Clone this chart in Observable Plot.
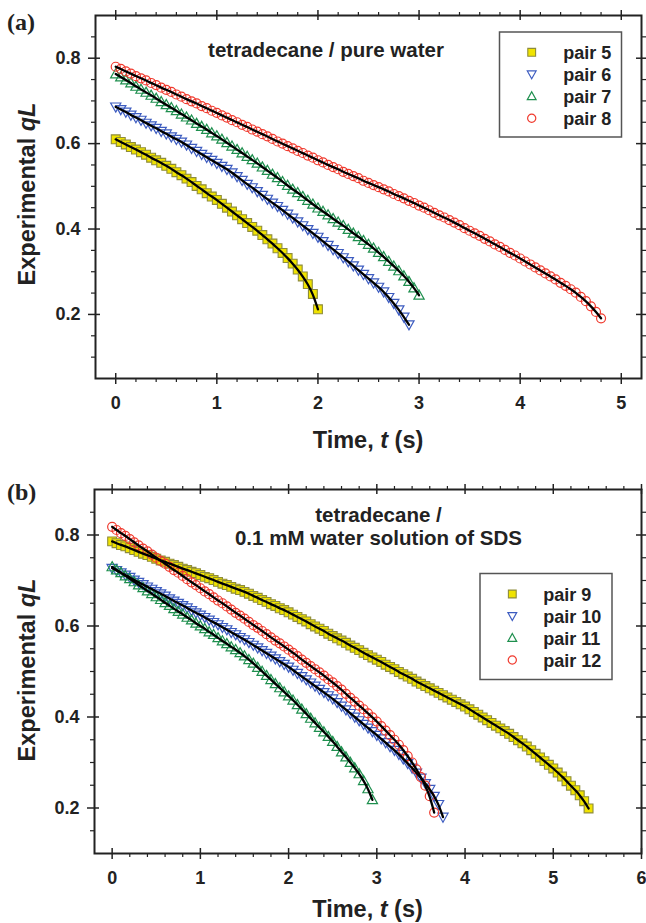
<!DOCTYPE html>
<html><head><meta charset="utf-8">
<script src="https://cdn.jsdelivr.net/npm/d3@7"></script>
<script src="https://cdn.jsdelivr.net/npm/@observablehq/plot@0.6"></script>
<style>
body{margin:0;background:#fff;}
#wrap{position:relative;width:646px;height:923px;overflow:hidden;background:#fff;}
</style></head><body><div id="wrap"></div>
<script>
// ---------- data ----------
const times = [0,0.05,0.1,0.15,0.2,0.25,0.3,0.35,0.4,0.45,0.5,0.55,0.6,0.65,0.7,0.75,0.8,0.85,0.9,0.95,
1,1.05,1.1,1.15,1.2,1.25,1.3,1.35,1.4,1.45,1.5,1.55,1.6,1.65,1.7,1.75,1.8,1.85,1.9,1.95,
2,2.05,2.1,2.15,2.2,2.25,2.3,2.35,2.4,2.45,2.5,2.55,2.6,2.65,2.7,2.75,2.8,2.85,2.9,2.95,
3,3.05,3.1,3.15,3.2,3.25,3.3,3.35,3.4,3.45,3.5,3.55,3.6,3.65,3.7,3.75,3.8,3.85,3.9,3.95,
4,4.05,4.1,4.15,4.2,4.25,4.3,4.35,4.4,4.45,4.5,4.55,4.6,4.65,4.7,4.75,4.8,4.85,4.9,4.95,
5,5.05,5.1,5.15,5.2,5.25,5.3,5.35,5.4];

// panel (a): tetradecane / pure water
const pair5 = [0.610,0.604,0.598,0.592,0.586,0.580,0.574,0.567,0.561,0.555,
0.548,0.541,0.533,0.526,0.518,0.510,0.501,0.493,0.484,0.476,
0.468,0.459,0.450,0.441,0.432,0.423,0.414,0.405,0.396,0.386,
0.376,0.366,0.355,0.344,0.332,0.319,0.305,0.289,0.271,0.248,0.212];
const pair6 = [0.686,0.680,0.674,0.667,0.661,0.655,0.648,0.642,0.636,0.629,
0.623,0.616,0.610,0.604,0.597,0.589,0.582,0.575,0.568,0.561,
0.554,0.547,0.540,0.532,0.523,0.514,0.505,0.497,0.488,0.479,
0.470,0.461,0.453,0.444,0.435,0.426,0.417,0.408,0.399,0.390,
0.381,0.371,0.362,0.352,0.343,0.333,0.324,0.314,0.304,0.294,
0.284,0.274,0.264,0.253,0.240,0.226,0.211,0.194,0.176];
const pair7 = [0.763,0.756,0.749,0.742,0.734,0.727,0.720,0.713,0.706,0.698,
0.691,0.684,0.677,0.669,0.662,0.655,0.647,0.640,0.633,0.625,
0.618,0.610,0.602,0.594,0.586,0.578,0.570,0.562,0.554,0.545,
0.537,0.528,0.520,0.511,0.502,0.493,0.485,0.476,0.467,0.458,
0.449,0.441,0.433,0.424,0.416,0.408,0.399,0.390,0.382,0.373,
0.364,0.355,0.345,0.335,0.324,0.313,0.302,0.290,0.277,0.262,0.245];
const pair8 = [0.780,0.775,0.769,0.764,0.758,0.753,0.748,0.742,0.737,0.731,
0.726,0.721,0.715,0.710,0.704,0.699,0.694,0.688,0.683,0.677,
0.672,0.666,0.661,0.655,0.650,0.644,0.639,0.633,0.628,0.622,
0.617,0.611,0.605,0.600,0.594,0.589,0.583,0.578,0.572,0.567,
0.561,0.556,0.550,0.545,0.540,0.534,0.529,0.524,0.519,0.513,
0.508,0.503,0.498,0.493,0.488,0.482,0.477,0.472,0.466,0.461,
0.455,0.450,0.444,0.438,0.432,0.427,0.421,0.415,0.409,0.402,
0.396,0.390,0.384,0.377,0.371,0.364,0.358,0.351,0.344,0.338,
0.331,0.324,0.317,0.310,0.303,0.296,0.289,0.282,0.274,0.267,
0.259,0.251,0.241,0.231,0.219,0.206,0.191];

// panel (b): tetradecane / 0.1 mM SDS
const pair9 = [0.786,0.782,0.778,0.775,0.771,0.767,0.763,0.759,0.756,0.752,
0.748,0.744,0.741,0.737,0.734,0.730,0.726,0.723,0.719,0.716,
0.712,0.708,0.705,0.701,0.697,0.693,0.690,0.686,0.682,0.679,
0.675,0.671,0.666,0.662,0.657,0.653,0.648,0.644,0.639,0.635,
0.630,0.625,0.620,0.615,0.610,0.604,0.599,0.594,0.589,0.583,
0.578,0.573,0.568,0.563,0.557,0.552,0.547,0.541,0.536,0.531,
0.526,0.521,0.515,0.510,0.505,0.499,0.494,0.489,0.484,0.478,
0.473,0.468,0.463,0.458,0.453,0.448,0.443,0.438,0.433,0.428,
0.423,0.417,0.411,0.405,0.399,0.393,0.387,0.381,0.375,0.369,
0.363,0.356,0.349,0.342,0.335,0.327,0.319,0.311,0.303,0.295,
0.287,0.278,0.269,0.259,0.249,0.239,0.228,0.215,0.199];
const pair10 = [0.727,0.722,0.717,0.712,0.707,0.701,0.696,0.691,0.686,0.681,
0.676,0.671,0.666,0.660,0.655,0.650,0.645,0.640,0.634,0.629,
0.624,0.619,0.613,0.608,0.603,0.597,0.592,0.586,0.581,0.575,
0.570,0.564,0.558,0.552,0.546,0.540,0.534,0.528,0.522,0.516,
0.510,0.503,0.496,0.489,0.482,0.475,0.468,0.461,0.454,0.447,
0.440,0.432,0.424,0.416,0.408,0.400,0.392,0.384,0.376,0.368,
0.360,0.352,0.344,0.335,0.327,0.318,0.308,0.298,0.288,0.277,
0.266,0.254,0.241,0.226,0.208,0.180];
const pair11 = [0.730,0.723,0.717,0.710,0.704,0.697,0.690,0.684,0.677,0.671,
0.664,0.658,0.651,0.645,0.638,0.632,0.626,0.619,0.613,0.606,
0.600,0.594,0.587,0.581,0.574,0.567,0.561,0.554,0.548,0.541,
0.534,0.526,0.518,0.509,0.500,0.491,0.482,0.473,0.464,0.455,
0.446,0.437,0.427,0.417,0.407,0.397,0.387,0.377,0.367,0.357,
0.346,0.335,0.323,0.312,0.300,0.288,0.275,0.260,0.242,0.218];
const pair12 = [0.818,0.811,0.804,0.798,0.791,0.784,0.777,0.770,0.764,0.757,
0.750,0.743,0.737,0.730,0.723,0.717,0.710,0.703,0.696,0.690,
0.683,0.676,0.670,0.663,0.656,0.650,0.643,0.636,0.629,0.623,
0.616,0.609,0.602,0.596,0.589,0.582,0.575,0.568,0.562,0.555,
0.548,0.541,0.534,0.526,0.519,0.512,0.505,0.498,0.491,0.483,
0.476,0.468,0.460,0.451,0.442,0.434,0.425,0.417,0.408,0.399,
0.390,0.380,0.370,0.360,0.350,0.339,0.327,0.314,0.300,0.285,
0.268,0.249,0.226,0.190];

const labelsA = ["pair 5","pair 6","pair 7","pair 8"];
const labelsB = ["pair 9","pair 10","pair 11","pair 12"];

// ticks
const xMajorA = [0,1,2,3,4,5];
const xMinorA = [0.2,0.4,0.6,0.8,1.2,1.4,1.6,1.8,2.2,2.4,2.6,2.8,3.2,3.4,3.6,3.8,4.2,4.4,4.6,4.8];
const xMajorB = [0,1,2,3,4,5,6];
const xMinorB = [0.2,0.4,0.6,0.8,1.2,1.4,1.6,1.8,2.2,2.4,2.6,2.8,3.2,3.4,3.6,3.8,4.2,4.4,4.6,4.8,5.2,5.4,5.6,5.8];
const yMajor = [0.2,0.4,0.6,0.8];
const yMinorA = [0.1,0.15,0.25,0.3,0.35,0.45,0.5,0.55,0.65,0.7,0.75,0.85];
const yMinorB = [0.15,0.25,0.3,0.35,0.45,0.5,0.55,0.65,0.7,0.75,0.85];

// ---------- styles ----------
const INK = "#222";
const SANS = '"Liberation Sans", Arial, Helvetica, sans-serif';
const YELLOW = "#f0e300", YELLOW_EDGE = "#8e8c3a";
const BLUE = "#3d5cc0", GREEN = "#1e8f4e", RED = "#f03a2e";

const triUp = {draw(c, size){const r=Math.sqrt(size/Math.PI);c.moveTo(0,-1.02*r);c.lineTo(r,0.76*r);c.lineTo(-r,0.76*r);c.closePath();}};
const triDown = {draw(c, size){const r=Math.sqrt(size/Math.PI);c.moveTo(0,1.02*r);c.lineTo(r,-0.76*r);c.lineTo(-r,-0.76*r);c.closePath();}};

const styleSet = [
  {symbol: "square", r: 5, fill: YELLOW, stroke: YELLOW_EDGE, sw: 1.1},
  {symbol: triDown, r: 5.1, fill: "none", stroke: BLUE, sw: 1.2},
  {symbol: triUp, r: 5.1, fill: "none", stroke: GREEN, sw: 1.2},
  {symbol: "circle", r: 4.5, fill: "none", stroke: RED, sw: 1.2}
];

const rowsOf = q => q.map((v, i) => ({t: times[i], q: v}));

function makePanel(cfg) {
  const {W, H, mt, mb, ml, mr} = cfg;
  const fw = W - ml - mr, fh = H - mt - mb;
  const marks = [];
  cfg.series.forEach((q, i) => {
    const s = styleSet[i];
    marks.push(Plot.dot(rowsOf(q), {x: "t", y: "q", symbol: s.symbol, r: s.r, fill: s.fill, stroke: s.stroke, strokeWidth: s.sw}));
  });
  cfg.series.forEach(q => {
    marks.push(Plot.line(rowsOf(q), {x: "t", y: "q", curve: "basis", stroke: "#000", strokeWidth: 2.3}));
  });
  const blank = () => "";
  marks.push(
    Plot.axisX({ticks: cfg.xMajor, anchor: "bottom", tickSize: 6, tickPadding: 12, tickFormat: d3.format("d"), label: null, strokeWidth: 1.5}),
    Plot.axisX({ticks: cfg.xMinor, anchor: "bottom", tickSize: 4, tickFormat: blank, label: null, strokeWidth: 1.2}),
    Plot.axisX({ticks: cfg.xMajor, anchor: "top", tickSize: 6, tickFormat: blank, label: null, strokeWidth: 1.5}),
    Plot.axisX({ticks: cfg.xMinor, anchor: "top", tickSize: 4, tickFormat: blank, label: null, strokeWidth: 1.2}),
    Plot.axisY({ticks: yMajor, anchor: "left", tickSize: 7, tickPadding: 8, tickFormat: d3.format(".1f"), label: null, strokeWidth: 1.5}),
    Plot.axisY({ticks: cfg.yMinor, anchor: "left", tickSize: 4, tickFormat: blank, label: null, strokeWidth: 1.2}),
    Plot.axisY({ticks: yMajor, anchor: "right", tickSize: 5, tickFormat: blank, label: null, strokeWidth: 1.5}),
    Plot.axisY({ticks: cfg.yMinor, anchor: "right", tickSize: 4, tickFormat: blank, label: null, strokeWidth: 1.2}),
    Plot.tickX(cfg.xMajor, {x: d => d, insetTop: fh - 5, stroke: INK, strokeWidth: 1.5}),
    Plot.tickX(cfg.xMajor, {x: d => d, insetBottom: fh - 5, stroke: INK, strokeWidth: 1.5}),
    Plot.tickY(yMajor, {y: d => d, insetRight: fw - 5, stroke: INK, strokeWidth: 1.5}),
    Plot.tickY(yMajor, {y: d => d, insetLeft: fw - 5, stroke: INK, strokeWidth: 1.5}),
    Plot.frame({stroke: INK, strokeWidth: 2})
  );
  const svg = Plot.plot({
    width: W, height: H, marginTop: mt, marginBottom: mb, marginLeft: ml, marginRight: mr,
    x: {domain: cfg.xDomain}, y: {domain: cfg.yDomain},
    style: {fontFamily: SANS, fontSize: "18px", fontWeight: "bold", color: INK, background: "transparent", overflow: "visible"},
    marks
  });
  svg.style.position = "absolute";
  svg.style.left = "0px";
  svg.style.top = cfg.top + "px";
  return svg;
}

const wrap = document.getElementById("wrap");
wrap.appendChild(makePanel({W: 646, H: 462, top: 0, mt: 15, mb: 84, ml: 95, mr: 5,
  xDomain: [-0.2, 5.2], yDomain: [0.05, 0.9], xMajor: xMajorA, xMinor: xMinorA, yMinor: yMinorA,
  series: [pair5, pair6, pair7, pair8]}));
wrap.appendChild(makePanel({W: 646, H: 461, top: 462, mt: 27, mb: 70, ml: 94, mr: 5,
  xDomain: [-0.2, 6], yDomain: [0.1, 0.9], xMajor: xMajorB, xMinor: xMinorB, yMinor: yMinorB,
  series: [pair9, pair10, pair11, pair12]}));

// ---------- annotations, axis titles and legends ----------
const ov = d3.create("svg").attr("width", 646).attr("height", 923)
  .style("position", "absolute").style("left", "0px").style("top", "0px")
  .attr("font-family", SANS).attr("font-weight", "bold").attr("fill", INK);

function xTitle(cx, by) {
  const t = ov.append("text").attr("x", cx).attr("y", by).attr("text-anchor", "middle").attr("font-size", 23.5);
  t.append("tspan").text("Time, ");
  t.append("tspan").attr("font-style", "italic").text("t");
  t.append("tspan").text(" (s)");
}
function yTitle(bx, cy) {
  const t = ov.append("text").attr("transform", `translate(${bx},${cy}) rotate(-90)`).attr("text-anchor", "middle").attr("font-size", 23.5);
  t.append("tspan").text("Experimental ");
  t.append("tspan").attr("font-style", "italic").text("qL");
}
xTitle(368, 448);
xTitle(367.5, 917);
yTitle(34.5, 194);
yTitle(34.5, 670);

ov.append("text").attr("x", 7).attr("y", 30).attr("font-family", '"Liberation Serif", "Times New Roman", serif').attr("font-size", 24).text("(a)");
ov.append("text").attr("x", 7).attr("y", 500).attr("font-family", '"Liberation Serif", "Times New Roman", serif').attr("font-size", 24).text("(b)");

ov.append("text").attr("x", 326).attr("y", 57).attr("text-anchor", "middle").attr("font-size", 20.5).text("tetradecane / pure water");
ov.append("text").attr("x", 378.5).attr("y", 522).attr("text-anchor", "middle").attr("font-size", 20.5).text("tetradecane /");
ov.append("text").attr("x", 378.5).attr("y", 545).attr("text-anchor", "middle").attr("font-size", 20.5).text("0.1 mM water solution of SDS");

function legend(x, y, w, h, symX, txtX, row0, labels) {
  ov.append("rect").attr("x", x).attr("y", y).attr("width", w).attr("height", h)
    .attr("fill", "#fff").attr("stroke", "#555").attr("stroke-width", 1.5);
  labels.forEach((lab, i) => {
    const s = styleSet[i];
    const cy = row0 + i * 22;
    const r = s.symbol === "circle" ? 4.1 : 4.4;
    let shape;
    if (s.symbol === "circle") shape = d3.symbolCircle;
    else if (s.symbol === "square") shape = d3.symbolSquare;
    else shape = s.symbol;
    ov.append("path").attr("transform", `translate(${symX},${cy})`)
      .attr("d", d3.symbol(shape, r * r * Math.PI)())
      .attr("fill", s.fill).attr("stroke", s.stroke).attr("stroke-width", s.sw);
    ov.append("text").attr("x", txtX).attr("y", cy + 6.5).attr("font-size", 18).text(lab);
  });
}
legend(499.5, 32, 122, 105, 531.7, 563.3, 52.3, labelsA);
legend(480, 573.5, 132, 106, 512.3, 543.3, 594, labelsB);

wrap.appendChild(ov.node());
</script>
</body></html>
